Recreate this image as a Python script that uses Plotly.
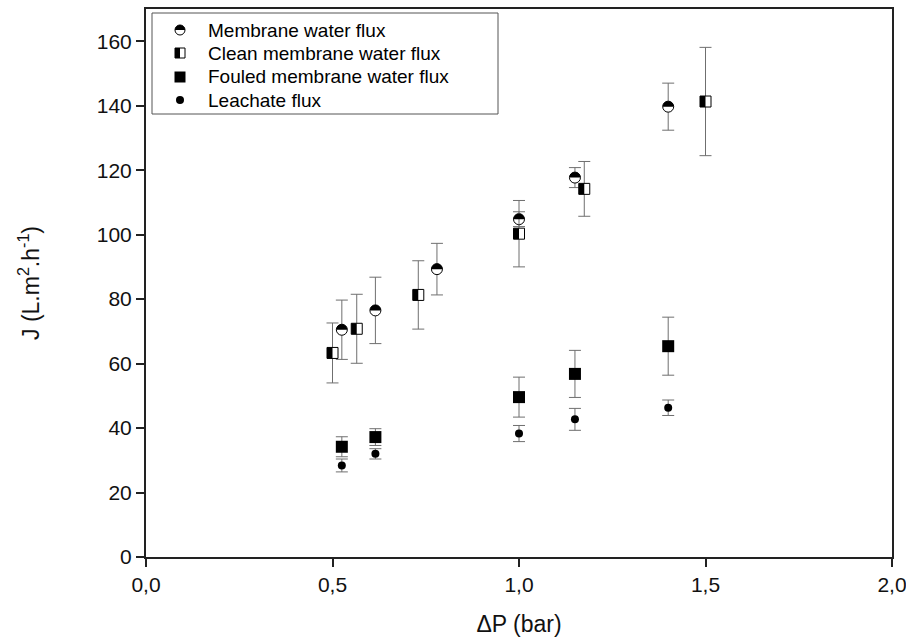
import numpy as np
import plotly.graph_objects as go

# ---------------- data ----------------
x_membrane = [0.525, 0.615, 0.78, 1.0, 1.15, 1.40]
y_membrane = [70.5, 76.5, 89.3, 104.8, 117.7, 139.7]
e_membrane = [9.2, 10.3, 8.0, 2.3, 3.1, 7.3]

x_clean = [0.50, 0.565, 0.73, 1.0, 1.175, 1.50]
y_clean = [63.3, 70.8, 81.3, 100.3, 114.2, 141.3]
e_clean = [9.3, 10.7, 10.6, 10.3, 8.5, 16.8]

x_fouled = [0.525, 0.615, 1.0, 1.15, 1.40]
y_fouled = [34.2, 37.2, 49.6, 56.8, 65.4]
e_fouled = [3.1, 2.6, 6.2, 7.3, 9.0]

x_leachate = [0.525, 0.615, 1.0, 1.15, 1.40]
y_leachate = [28.4, 32.0, 38.3, 42.7, 46.3]
e_leachate = [2.0, 1.6, 2.5, 3.4, 2.4]

series_names = ["Membrane water flux", "Clean membrane water flux",
                "Fouled membrane water flux", "Leachate flux"]

x_tickvals = [0.0, 0.5, 1.0, 1.5, 2.0]
x_ticktext = ["0,0", "0,5", "1,0", "1,5", "2,0"]
y_tickvals = [0, 20, 40, 60, 80, 100, 120, 140, 160]

# ---------------- layout constants ----------------
W, H = 906, 644
ML, MR, MT, MB = 146, 14, 9, 87
PW, PH = W - ML - MR, H - MT - MB
FONT = "Liberation Sans, Arial, sans-serif"
ERR_COLOR = "#6f6f6f"


def px2paper(px, py):
    return (px - ML) / PW, (H - MB - py) / PH


def half_disk_path(r):
    t = np.linspace(0, np.pi, 25)
    pts = [(r * np.cos(a), r * np.sin(a)) for a in t]
    return "M " + " L ".join(f"{x:.2f},{y:.2f}" for x, y in pts) + " Z"


def half_square_path(s):
    h = s / 2
    return f"M {-h},{-h} L 0,{-h} L 0,{h} L {-h},{h} Z"


def err(arr):
    return dict(type="data", array=arr, visible=True, color=ERR_COLOR,
                thickness=1, width=6)


fig = go.Figure()

fig.add_trace(go.Scatter(x=x_membrane, y=y_membrane, mode="markers",
                         name=series_names[0], error_y=err(e_membrane),
                         marker=dict(symbol="circle", size=11, color="white",
                                     line=dict(color="black", width=1))))
fig.add_trace(go.Scatter(x=x_clean, y=y_clean, mode="markers",
                         name=series_names[1], error_y=err(e_clean),
                         marker=dict(symbol="square", size=11, color="white",
                                     line=dict(color="black", width=1))))
fig.add_trace(go.Scatter(x=x_fouled, y=y_fouled, mode="markers",
                         name=series_names[2], error_y=err(e_fouled),
                         marker=dict(symbol="square", size=12, color="black",
                                     line=dict(color="black", width=0))))
fig.add_trace(go.Scatter(x=x_leachate, y=y_leachate, mode="markers",
                         name=series_names[3], error_y=err(e_leachate),
                         marker=dict(symbol="circle", size=8, color="black",
                                     line=dict(color="black", width=0))))

shapes = []
# half-filled parts of the data markers
for xv, yv in zip(x_membrane, y_membrane):
    shapes.append(dict(type="path", xref="x", yref="y", xsizemode="pixel",
                       ysizemode="pixel", xanchor=xv, yanchor=yv,
                       path=half_disk_path(5.5), fillcolor="black",
                       line=dict(width=0), layer="above"))
for xv, yv in zip(x_clean, y_clean):
    shapes.append(dict(type="path", xref="x", yref="y", xsizemode="pixel",
                       ysizemode="pixel", xanchor=xv, yanchor=yv,
                       path=half_square_path(11), fillcolor="black",
                       line=dict(width=0), layer="above"))

# ---------------- custom legend ----------------
box_x0, box_x1, box_y0, box_y1 = 152, 498, 13, 114
bx0, by1 = px2paper(box_x0, box_y0)
bx1, by0 = px2paper(box_x1, box_y1)
shapes.append(dict(type="rect", xref="paper", yref="paper", x0=bx0, x1=bx1,
                   y0=by0, y1=by1, line=dict(color="#555", width=1),
                   fillcolor="white", layer="above"))

row_y = [30, 53, 77, 100]
glyph_x = 180
text_x = 206
annotations = []
for i, name in enumerate(series_names):
    gx, gy = px2paper(glyph_x, row_y[i])
    tx, _ = px2paper(text_x, row_y[i])
    annotations.append(dict(x=tx, y=gy, xref="paper", yref="paper", text=name,
                            showarrow=False, xanchor="left", yanchor="middle",
                            font=dict(family=FONT, size=19, color="black")))
    common = dict(xref="paper", yref="paper", xsizemode="pixel",
                  ysizemode="pixel", xanchor=gx, yanchor=gy, layer="above")
    if i == 0:
        shapes.append(dict(type="circle", x0=-5, x1=5, y0=-5, y1=5,
                           fillcolor="white", line=dict(color="black", width=1),
                           **common))
        shapes.append(dict(type="path", path=half_disk_path(5),
                           fillcolor="black", line=dict(width=0), **common))
    elif i == 1:
        shapes.append(dict(type="rect", x0=-5, x1=5, y0=-5, y1=5,
                           fillcolor="white", line=dict(color="black", width=1),
                           **common))
        shapes.append(dict(type="path", path=half_square_path(10),
                           fillcolor="black", line=dict(width=0), **common))
    elif i == 2:
        shapes.append(dict(type="rect", x0=-5.5, x1=5.5, y0=-5.5, y1=5.5,
                           fillcolor="black", line=dict(width=0), **common))
    else:
        shapes.append(dict(type="circle", x0=-4, x1=4, y0=-4, y1=4,
                           fillcolor="black", line=dict(width=0), **common))

axis_common = dict(showline=True, linecolor="#222", linewidth=2, mirror=True,
                   ticks="outside", ticklen=8, tickwidth=1.5, tickcolor="#222",
                   showgrid=False, zeroline=False, automargin=False,
                   ticklabeloverflow="allow",
                   tickfont=dict(family=FONT, size=21, color="#111"))

fig.update_layout(
    width=W, height=H,
    margin=dict(l=ML, r=MR, t=MT, b=MB, autoexpand=False),
    plot_bgcolor="white", paper_bgcolor="white",
    showlegend=False,
    shapes=shapes,
    annotations=annotations,
    xaxis=dict(range=[0, 2.0], tickvals=x_tickvals, ticktext=x_ticktext,
               title=dict(text="ΔP (bar)", standoff=21,
                          font=dict(family=FONT, size=23, color="#111")),
               **axis_common),
    yaxis=dict(range=[0, 170], tickvals=y_tickvals,
               title=dict(text="J (L.m<sup>2</sup>.h<sup>-1</sup>)", standoff=51,
                          font=dict(family=FONT, size=23, color="#111")),
               **axis_common),
)

fig.write_html("out.html")
